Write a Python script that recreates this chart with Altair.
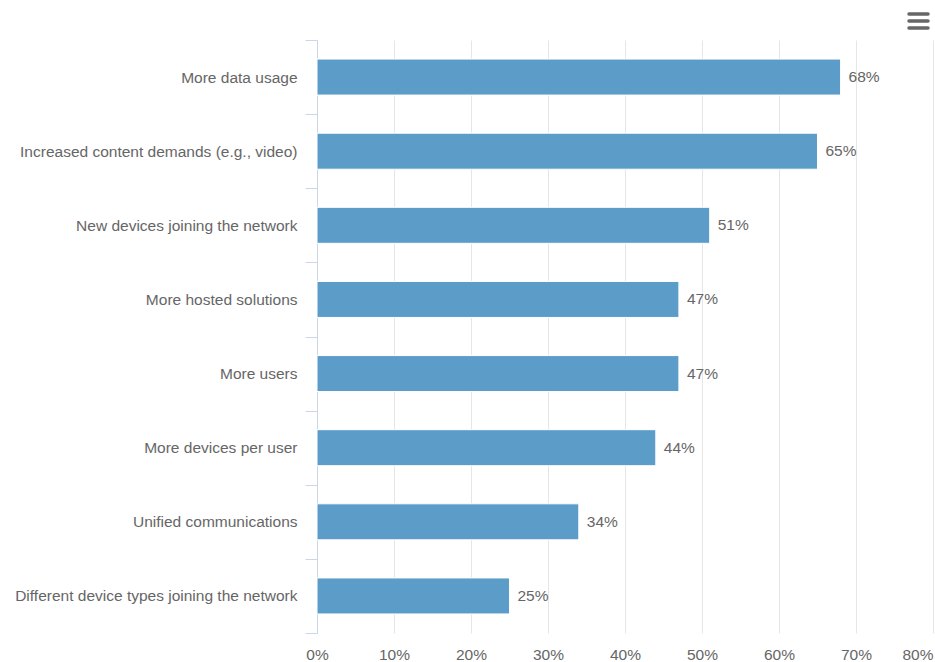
import altair as alt
import pandas as pd

# Reasons driving network bandwidth needs (share of respondents)
categories = [
    "More data usage",
    "Increased content demands (e.g., video)",
    "New devices joining the network",
    "More hosted solutions",
    "More users",
    "More devices per user",
    "Unified communications",
    "Different device types joining the network",
]
shares = [0.68, 0.65, 0.51, 0.47, 0.47, 0.44, 0.34, 0.25]
x_ticks = [0.0, 0.1, 0.2, 0.3, 0.4, 0.5, 0.6, 0.7, 0.8]

df = pd.DataFrame({"reason": categories, "share": shares})

FONT = "Liberation Sans"
FONT_SIZE = 15.5
TEXT_GRAY = "#666666"
BAR_BLUE = "#5c9cc9"
AXIS_BLUE = "#ccd6eb"

x_enc = alt.X(
    "share:Q",
    scale=alt.Scale(domain=[0, 0.8], nice=False, zero=True),
    axis=alt.Axis(
        values=x_ticks,
        format=".0%",
        title=None,
        domain=False,
        ticks=False,
        tickSize=0,
        grid=True,
        gridColor="#e6e6e6",
        gridWidth=1,
        labelPadding=14,
        labelFont=FONT,
        labelFontSize=FONT_SIZE,
        labelColor=TEXT_GRAY,
        labelAlign=alt.expr("datum.value >= 0.8 ? 'right' : 'center'"),
    ),
)
y_enc = alt.Y(
    "reason:N",
    sort=categories,
    scale=alt.Scale(paddingInner=0, paddingOuter=0),
    axis=alt.Axis(
        title=None,
        domain=True,
        domainColor=AXIS_BLUE,
        domainWidth=1,
        ticks=True,
        tickBand="extent",
        tickColor=AXIS_BLUE,
        tickSize=12,
        tickWidth=1,
        grid=False,
        labelPadding=8,
        labelFont=FONT,
        labelFontSize=FONT_SIZE,
        labelColor=TEXT_GRAY,
        labelLimit=400,
    ),
)

base = alt.Chart(df)

bars = base.mark_bar(size=36, color=BAR_BLUE, stroke="white", strokeWidth=1).encode(
    x=x_enc, y=y_enc
)

labels = base.mark_text(
    align="left", baseline="middle", dx=8, font=FONT, fontSize=FONT_SIZE, color=TEXT_GRAY
).encode(
    x="share:Q",
    y=alt.Y("reason:N", sort=categories),
    text=alt.Text("share:Q", format=".0%"),
)

# context-menu icon (three stacked strokes) above the top-right corner
icon_df = pd.DataFrame({"k": [0]})
icon_layers = [
    alt.Chart(icon_df)
    .mark_rule(color="#666666", strokeWidth=3.5, strokeCap="round")
    .encode(x=alt.value(592), x2=alt.value(611), y=alt.value(yy), y2=alt.value(yy))
    for yy in (-26, -19, -12)
]

chart = (
    alt.layer(bars, labels, *icon_layers)
    .properties(
        width=616,
        height=593,
        autosize=alt.AutoSizeParams(type="none"),
        padding={"left": 317, "top": 40, "right": 2, "bottom": 29},
        background="white",
    )
    .configure_view(stroke=None)
)

chart.save("out.html", embed_options={"renderer": "svg", "actions": False})
